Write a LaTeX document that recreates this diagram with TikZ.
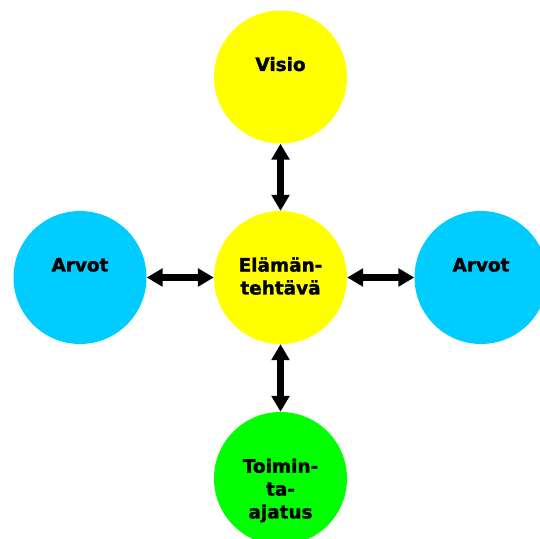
\documentclass[tikz,border=0pt]{standalone}
\usepackage{fontspec}
\setmainfont{DejaVu Sans}[BoldFont={DejaVu Sans Bold},BoldFeatures={FakeBold=1.6}]
\usetikzlibrary{arrows.meta}
\definecolor{sunyellow}{RGB}{255,255,0}
\definecolor{skyblue}{RGB}{0,204,255}
\definecolor{leafgreen}{RGB}{0,255,0}
\begin{document}
\begin{tikzpicture}[x=1bp,y=1bp,
  disc/.style={circle,draw=none,inner sep=0pt,minimum size=133bp},
  caption/.style={anchor=base,align=center,inner sep=0pt,
    font=\bfseries\fontsize{18.5}{23}\selectfont},
  link/.style={line width=6.5bp,{Triangle[length=16bp,width=17.5bp]}-{Triangle[length=16bp,width=17.5bp]}}]
\useasboundingbox (0,0) rectangle (540,539);
\clip (0,0) rectangle (540,539);
% the five discs
\node[disc,fill=sunyellow] (visio) at (280.5,462) {};
\node[disc,fill=sunyellow] (core) at (280.5,261.5) {};
\node[disc,fill=skyblue] (left) at (80,261.5) {};
\node[disc,fill=skyblue] (right) at (481,261.5) {};
\node[disc,fill=leafgreen] (idea) at (280.5,60.5) {};
% captions: the base anchor sits on the last line, so shift by the line count
\node[caption] (tvisio) at ([yshift=6bp]visio.center) {Visio};
\node[caption] (tcore) at ([yshift=-17bp]core.center) {Elämän-\\tehtävä};
\node[caption] (tleft) at ([yshift=6bp]left.center) {Arvot};
\node[caption] (tright) at ([yshift=6bp]right.center) {Arvot};
\node[caption] (tidea) at ([yshift=-40bp]idea.center) {Toimin-\\ta-\\ajatus};
% double-headed connectors
\draw[link] (visio) -- (core);
\draw[link] (left) -- (core);
\draw[link] (core) -- (right);
\draw[link] (core) -- (idea);
\end{tikzpicture}
\end{document}
